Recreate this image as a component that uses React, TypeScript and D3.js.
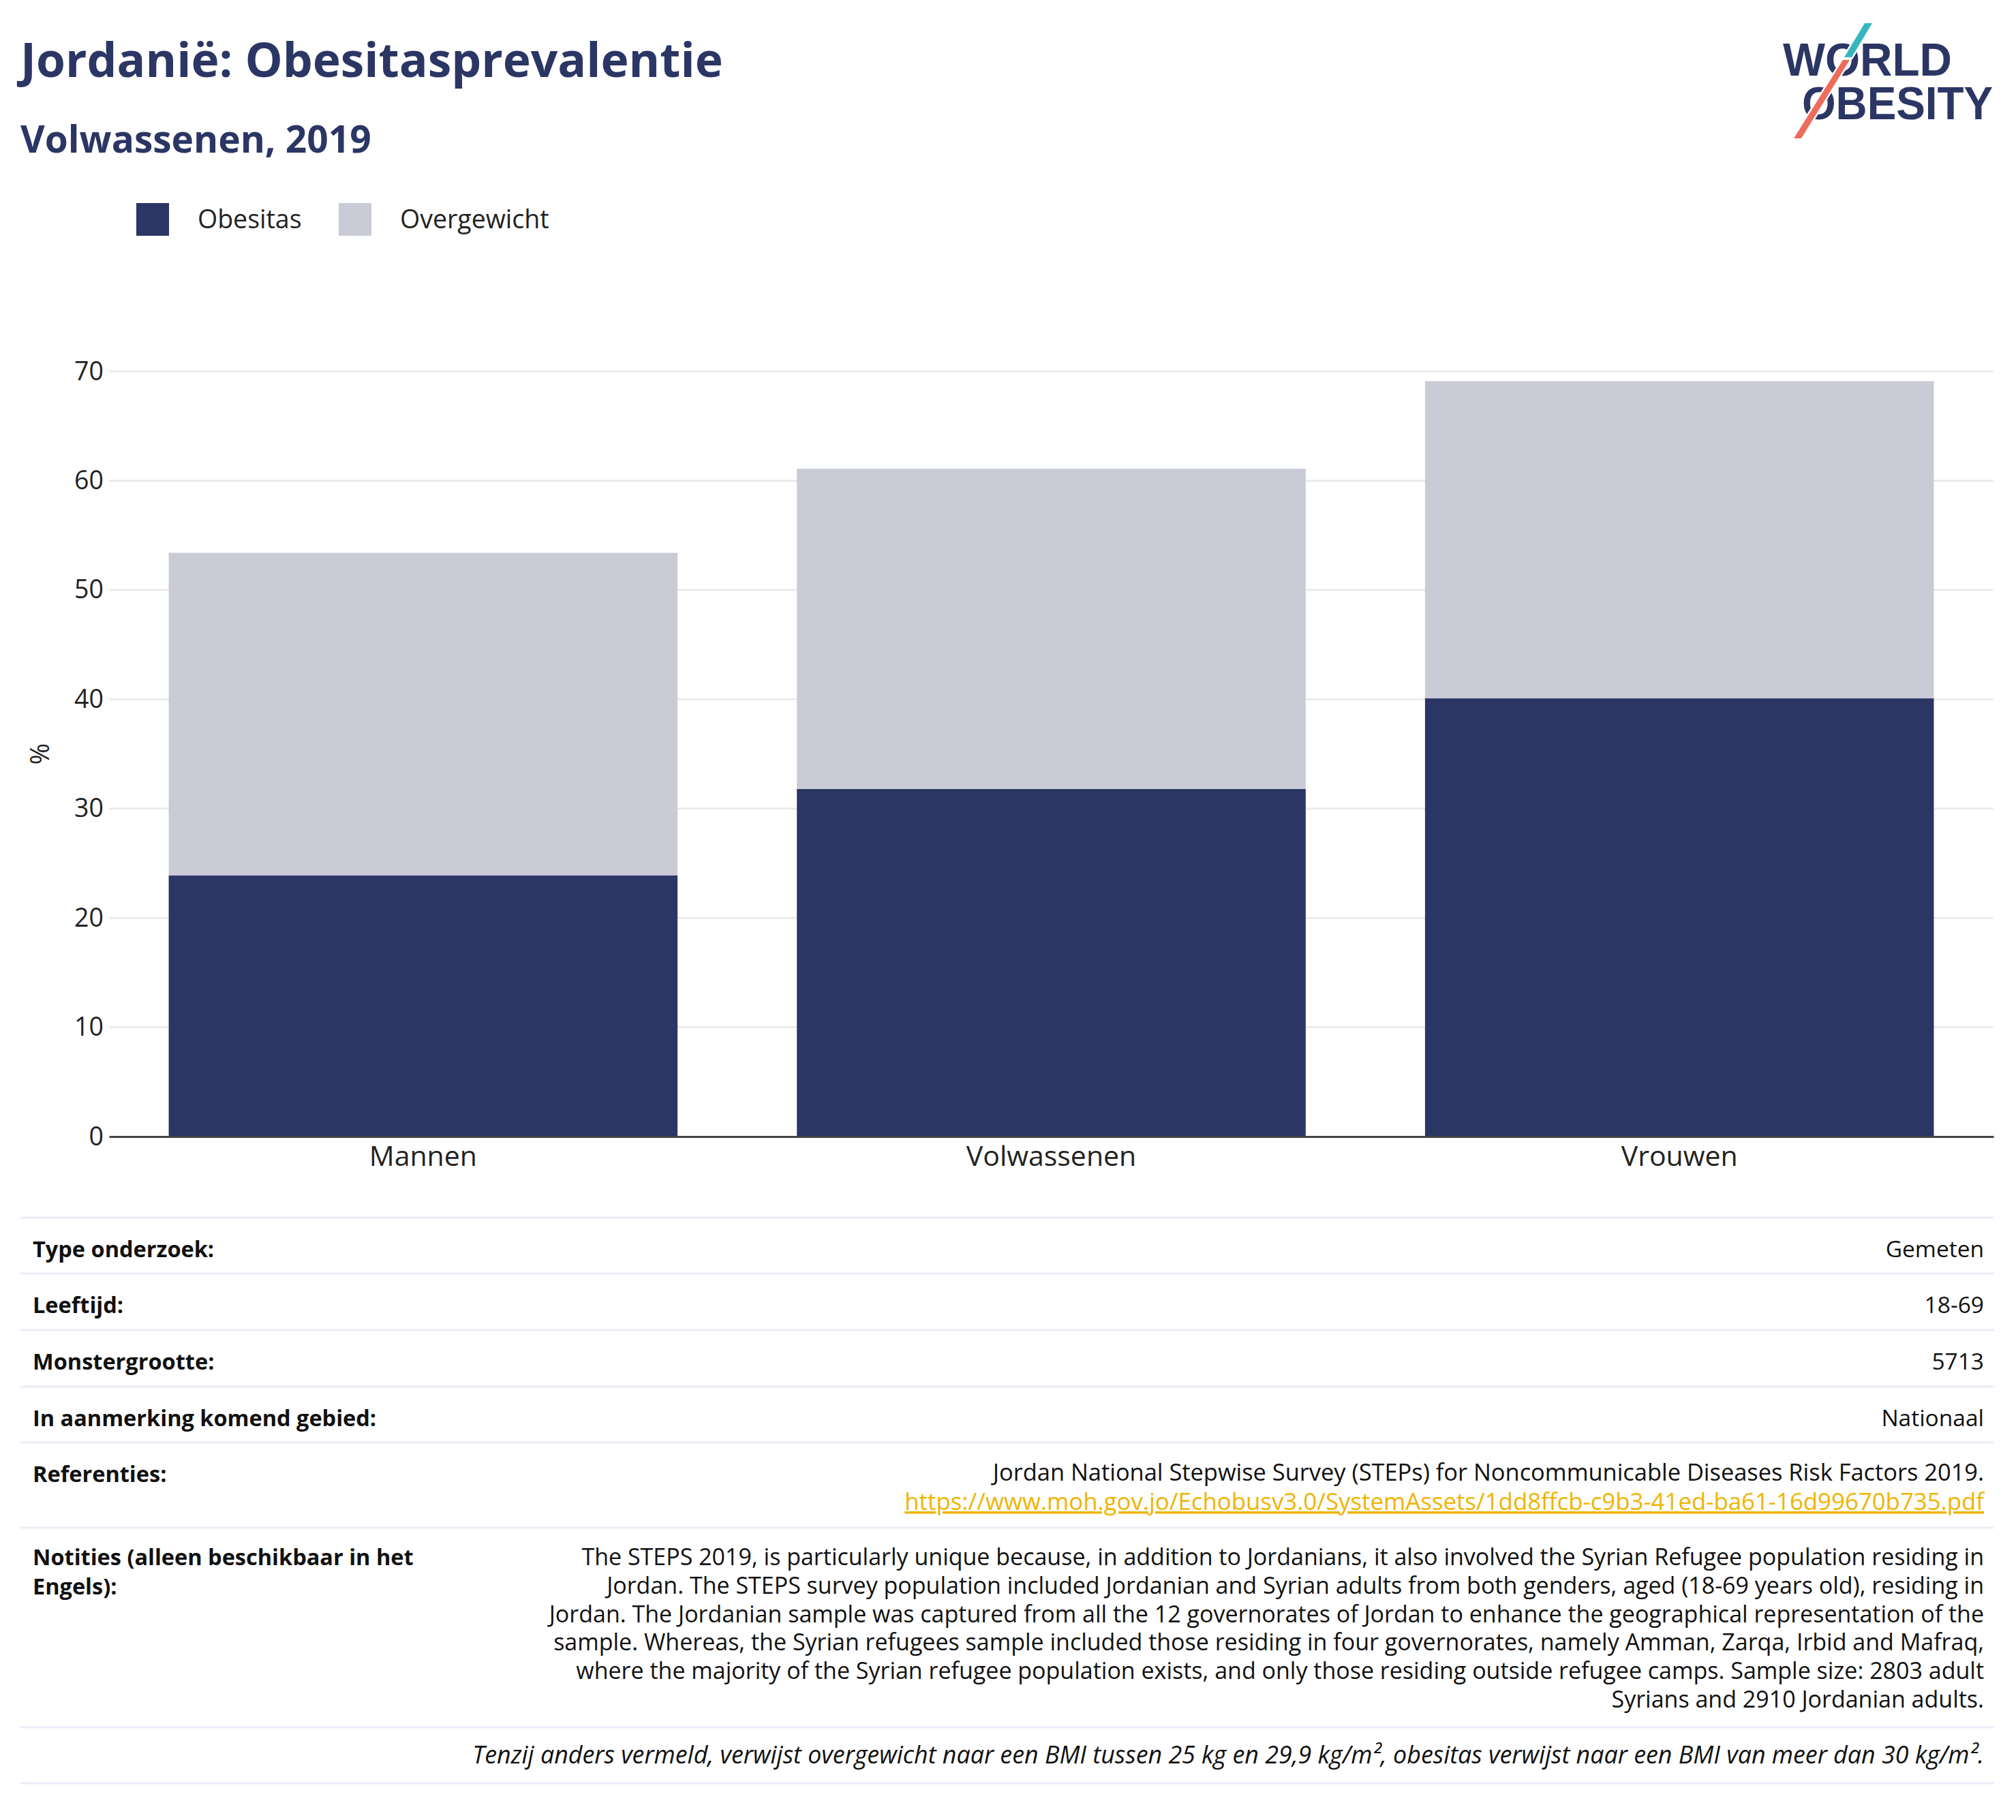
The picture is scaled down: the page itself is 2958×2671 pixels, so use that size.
import React, { useEffect, useRef } from 'react';
import * as d3 from 'd3';

const categories = ['Mannen', 'Volwassenen', 'Vrouwen'];
const obesitas = [23.9, 31.8, 40.1];
const overgewicht = [29.5, 29.3, 29.0];
const yTicks = [0, 10, 20, 30, 40, 50, 60, 70];

const seriesNames = ['Obesitas', 'Overgewicht'];
const seriesColors = ['#2b3664', '#c9cbd7'];

const tableLabels = ['Type onderzoek:', 'Leeftijd:', 'Monstergrootte:', 'In aanmerking komend gebied:'];
const tableValues = ['Gemeten', '18-69', '5713', 'Nationaal'];
const referenceText = 'Jordan National Stepwise Survey (STEPs) for Noncommunicable Diseases Risk Factors 2019.';
const referenceLink = 'https://www.moh.gov.jo/Echobusv3.0/SystemAssets/1dd8ffcb-c9b3-41ed-ba61-16d99670b735.pdf';
const notesLabel = ['Notities (alleen beschikbaar in het', 'Engels):'];
const notesLines = [
  'The STEPS 2019, is particularly unique because, in addition to Jordanians, it also involved the Syrian Refugee population residing in',
  'Jordan. The STEPS survey population included Jordanian and Syrian adults from both genders, aged (18-69 years old), residing in',
  'Jordan. The Jordanian sample was captured from all the 12 governorates of Jordan to enhance the geographical representation of the',
  'sample. Whereas, the Syrian refugees sample included those residing in four governorates, namely Amman, Zarqa, Irbid and Mafraq,',
  'where the majority of the Syrian refugee population exists, and only those residing outside refugee camps. Sample size: 2803 adult',
  'Syrians and 2910 Jordanian adults.',
];
const footnote = 'Tenzij anders vermeld, verwijst overgewicht naar een BMI tussen 25 kg en 29,9 kg/m², obesitas verwijst naar een BMI van meer dan 30 kg/m².';

const W = 2958;
const H = 2671;
const FONT = '"Open Sans", Lato, sans-serif';
const NAVY = '#2b3664';

const App: React.FC = () => {
  const ref = useRef<SVGSVGElement>(null);

  useEffect(() => {
    document.body.style.margin = '0';
    drawChart();
  }, []);

  const drawChart = () => {
    const svg = d3.select(ref.current);
    svg.selectAll('*').remove();
    svg.append('rect').attr('width', W).attr('height', H).attr('fill', '#fff');

    // titels
    svg.append('text').attr('x', 30).attr('y', 113).attr('font-size', 69.5).attr('font-weight', 700)
      .attr('fill', NAVY).attr('font-family', FONT).text('Jordanië: Obesitasprevalentie');
    svg.append('text').attr('x', 30).attr('y', 224).attr('font-size', 55).attr('font-weight', 700)
      .attr('fill', NAVY).attr('font-family', FONT).text('Volwassenen, 2019');

    // logo
    const logo = svg.append('g');
    const logoText = logo.append('text').attr('font-family', '"Liberation Sans", Arial, sans-serif')
      .attr('font-weight', 700).attr('font-size', 68).attr('fill', NAVY);
    logoText.append('tspan').attr('x', 2616).attr('y', 111)
      .attr('textLength', 248).attr('lengthAdjust', 'spacingAndGlyphs').text('WORLD');
    logoText.append('tspan').attr('x', 2644).attr('y', 175)
      .attr('textLength', 280).attr('lengthAdjust', 'spacingAndGlyphs').text('OBESITY');
    logo.append('polygon').attr('points', '2736,34 2747,34 2717,84 2706,84')
      .attr('fill', '#35b8bd').attr('stroke', '#fff').attr('stroke-width', 5).attr('paint-order', 'stroke');
    logo.append('polygon').attr('points', '2704,88 2714,88 2643,203 2632,203')
      .attr('fill', '#ef6b5b').attr('stroke', '#fff').attr('stroke-width', 5).attr('paint-order', 'stroke');

    // legende
    const legend = svg.append('g');
    const legendX = [200, 497];
    seriesNames.forEach((name, i) => {
      legend.append('rect').attr('x', legendX[i]).attr('y', 298).attr('width', 48).attr('height', 48)
        .attr('fill', seriesColors[i]);
      legend.append('text').attr('x', legendX[i] + 90).attr('y', 335).attr('font-size', 37.5)
        .attr('fill', '#222').attr('font-family', FONT).text(name);
    });

    // plot
    const left = 160;
    const right = 2925;
    const x = d3.scaleBand().domain(categories).range([left, right]).paddingInner(0.19).paddingOuter(0.095);
    const y = d3.scaleLinear().domain([0, 70]).range([1668, 545]);

    const grid = svg.append('g');
    grid.selectAll('line').data(yTicks.filter(d => d > 0)).enter().append('line')
      .attr('x1', left).attr('x2', right)
      .attr('y1', d => y(d)).attr('y2', d => y(d))
      .attr('stroke', '#ebebeb').attr('stroke-width', 3);

    const yAxis = svg.append('g').attr('transform', `translate(${left},0)`)
      .call(d3.axisLeft(y).tickValues(yTicks).tickSize(0).tickPadding(8));
    yAxis.select('.domain').remove();
    yAxis.selectAll('text').attr('font-size', 37.5).attr('font-family', FONT).attr('fill', '#222');

    const stack = d3.stack<number>().keys(['0', '1'])
      .value((i, k) => (k === '0' ? obesitas[i] : overgewicht[i]));
    const layers = stack(d3.range(categories.length));

    layers.forEach((layer, li) => {
      svg.append('g').selectAll('rect').data(layer).enter().append('rect')
        .attr('x', (_, i) => x(categories[i]) ?? 0)
        .attr('width', x.bandwidth())
        .attr('y', d => y(d[1]))
        .attr('height', d => y(d[0]) - y(d[1]))
        .attr('fill', seriesColors[li]);
    });

    const xAxis = svg.append('g').attr('transform', `translate(0,${y(0)})`)
      .call(d3.axisBottom(x).tickSize(0).tickPadding(14));
    xAxis.select('.domain').attr('stroke', '#444').attr('stroke-width', 3);
    xAxis.selectAll('text').attr('font-size', 41).attr('font-family', FONT).attr('fill', '#222');

    svg.append('text').attr('transform', `translate(72,${(y(0) + y(70)) / 2}) rotate(-90)`)
      .attr('text-anchor', 'middle').attr('font-size', 38).attr('font-family', FONT).attr('fill', '#222')
      .text('%');

    // tabel
    const tLeft = 30;
    const tRight = 2926;
    const tx = 48;
    const vx = 2911;
    const lines = [1787, 1869, 1952, 2035, 2117, 2242, 2535, 2617];
    const table = svg.append('g').attr('font-family', FONT).attr('font-size', 34).attr('fill', '#111');
    lines.forEach(ly => {
      table.append('line').attr('x1', tLeft).attr('x2', tRight).attr('y1', ly).attr('y2', ly)
        .attr('stroke', '#eaedf7').attr('stroke-width', 3);
    });
    tableLabels.forEach((lab, i) => {
      table.append('text').attr('x', tx).attr('y', lines[i] + 58).attr('font-weight', 700)
        .attr('font-size', 32.5).text(lab);
      table.append('text').attr('x', vx).attr('y', lines[i] + 58).attr('text-anchor', 'end')
        .attr('font-size', 33.5).text(tableValues[i]);
    });
    table.append('text').attr('x', tx).attr('y', 2175).attr('font-weight', 700).attr('font-size', 32.5)
      .text('Referenties:');
    table.append('text').attr('x', vx).attr('y', 2173).attr('text-anchor', 'end').attr('font-size', 34.4)
      .text(referenceText);
    table.append('text').attr('x', vx).attr('y', 2216).attr('text-anchor', 'end').attr('fill', '#f0b400')
      .attr('font-size', 34.8).attr('text-decoration', 'underline').text(referenceLink);
    notesLabel.forEach((t, i) => {
      table.append('text').attr('x', tx).attr('y', 2297 + i * 43).attr('font-weight', 700)
        .attr('font-size', 32.5).text(t);
    });
    notesLines.forEach((t, i) => {
      table.append('text').attr('x', vx).attr('y', 2297 + i * 41.8).attr('text-anchor', 'end').text(t);
    });
    table.append('text').attr('x', vx).attr('y', 2588).attr('text-anchor', 'end').attr('font-style', 'italic')
      .attr('font-size', 35.8).text(footnote);
  };

  return <svg ref={ref} width={W} height={H} style={{ display: 'block' }} />;
};

export default App;
